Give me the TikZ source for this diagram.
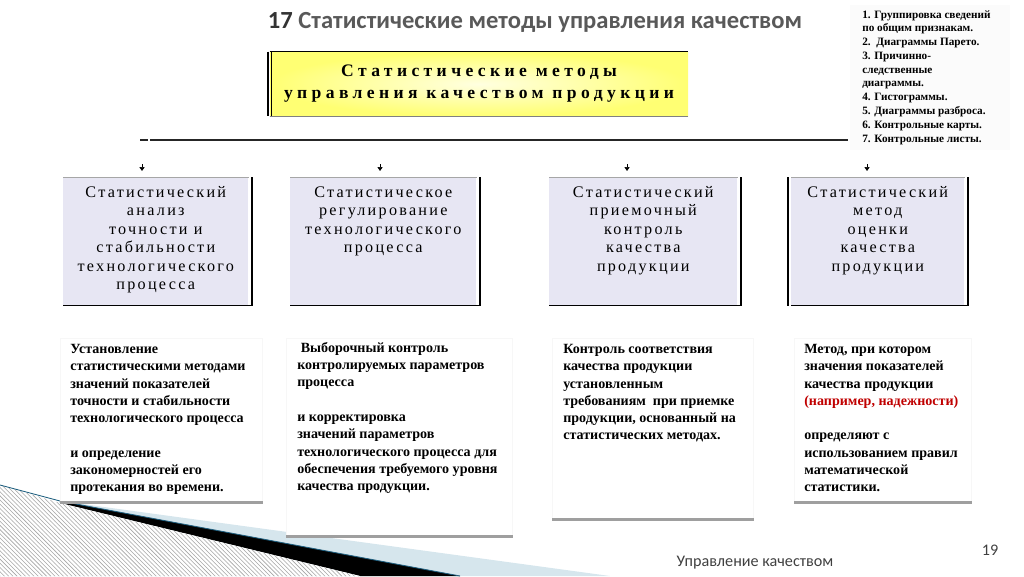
\documentclass[tikz,border=0pt]{standalone}
\usepackage{fontspec}
\setmainfont{Liberation Serif}
\newfontfamily\slidefont{Carlito}
\newfontfamily\spacedfont[LetterSpace=14]{Liberation Serif}
\newfontfamily\headfont[LetterSpace=25]{Liberation Serif}
\usetikzlibrary{arrows.meta,positioning,patterns}
\definecolor{lavender}{HTML}{E7E6F3}
\definecolor{paleblue}{HTML}{D6E6ED}
\definecolor{darkred}{HTML}{C00000}
\definecolor{slidegray}{HTML}{595959}
\definecolor{tealline}{HTML}{1F5F7F}

\begin{document}
\begin{tikzpicture}[x=0.25mm,y=-0.25mm,
    catbox/.style={fill=lavender,minimum height=32mm,inner sep=0pt,anchor=north west},
    cattext/.style={align=center,inner sep=0pt,font=\spacedfont\fontsize{11.5}{13.1}\selectfont},
    panel/.style={fill=white,draw=gray!6,inner sep=0pt,anchor=north west},
    paneltext/.style={align=left,inner sep=0pt,anchor=north west,font=\bfseries\fontsize{10}{12.3}\selectfont},
    tick/.style={-{Triangle[length=1mm,width=1.3mm]},line width=0.4pt}]
    \useasboundingbox (0,0) rectangle (1024,576);
    \fill[paleblue] (60,501) -- (610,576) -- (0,576) -- cycle;
    \fill[black] (60,501) -- (460,576) -- (360,576) -- (60,503) -- cycle;
    \fill[white] (0,485) -- (60,503) -- (360,576) -- (0,576) -- cycle;
    \fill[pattern=north west lines,pattern color=gray!70] (0,485) -- (60,503) -- (360,576) -- (0,576) -- cycle;
    \draw[tealline,line width=0.6pt] (0,485) -- (60,501) -- (460,576);
    \node[font=\slidefont\bfseries\fontsize{17.5}{21}\selectfont,text=slidegray] (title) at (535,22)
        {\textcolor{black!80}{17} Статистические методы управления качеством};
    \node[shade,inner color=yellow!12,outer color=yellow!55,minimum width=104.5mm,minimum height=16mm,
        inner sep=0pt,align=center,font=\headfont\bfseries\fontsize{12.5}{15.6}\selectfont] (head) at (479,84)
        {Статистические методы\\управления качеством продукции};
    \draw[line width=0.8pt] (head.north west) -- (head.north east);
    \draw[gray] (head.south west) -- (head.south east);
    \draw[line width=1.3pt] ([xshift=-0.4mm]head.north west) -- ([xshift=-0.4mm]head.south west);
    \draw[line width=0.4pt] ([xshift=0.3mm]head.north west) -- ([xshift=0.3mm]head.south west);
    \fill[gray!3] (850,5) rectangle (1010,150);
    \node[align=left,inner sep=0pt,anchor=north west,font=\bfseries\fontsize{8}{9.8}\selectfont] (list) at (862,10)
        {1. Группировка сведений\\по общим признакам.\\2.\ \ Диаграммы Парето.\\3. Причинно-\\следственные\\диаграммы.\\4. Гистограммы.\\5. Диаграммы разброса.\\6. Контрольные карты.\\7. Контрольные листы.};
    \coordinate (l0) at (140,140);
    \coordinate (l1) at (148,140);
    \coordinate (l2) at (150,140);
    \coordinate (l3) at (848,140);
    \draw[line width=1.1pt,black!85] (l0) -- (l1) (l2) -- (l3);
    \node[catbox,minimum width=46.25mm] (b1) at (63,177) {};
    \node[catbox,minimum width=46.5mm] (b2) at (290,177) {};
    \node[catbox,minimum width=47mm] (b3) at (549,177) {};
    \node[catbox,minimum width=43.25mm] (b4) at (791,177) {};
    \foreach \b in {b1,b2,b3,b4} {
        \draw[gray!70] (\b.north west) -- (\b.north east);
        \draw[line width=0.9pt] (\b.south west) -- ([xshift=1mm]\b.south east);
        \draw[line width=1.2pt] ([xshift=0.8mm]\b.north east) -- ([xshift=0.8mm]\b.south east);
    }
    \draw[line width=1.2pt] ([xshift=-0.7mm]b4.north west) -- ([xshift=-0.7mm]b4.south west);
    \coordinate (m1) at (142,164);
    \coordinate (m2) at (380,164);
    \coordinate (m3) at (627,164);
    \coordinate (m4) at (867,164);
    \foreach \m in {m1,m2,m3,m4}
        \draw[tick] (\m) -- ++(0,7);
    \node[cattext,below=2.3mm of b1.north] (c1) {Статистический\\анализ\\точности и\\стабильности\\технологического\\процесса};
    \node[cattext,below=2.3mm of b2.north] (c2) {Статистическое\\регулирование\\технологического\\процесса};
    \node[cattext,below=2.3mm of b3.north] (c3) {Статистический\\приемочный\\контроль\\качества\\продукции};
    \node[cattext,below=2.3mm of b4.north] (c4) {Статистический\\метод\\оценки\\качества\\продукции};
    \node[panel,minimum width=50.5mm,minimum height=41mm] (p1) at (60,338) {};
    \node[panel,minimum width=56.5mm,minimum height=49.5mm] (p2) at (286,338) {};
    \node[panel,minimum width=50.25mm,minimum height=45.25mm] (p3) at (552,338) {};
    \node[panel,minimum width=44.25mm,minimum height=41mm] (p4) at (794,338) {};
    \foreach \p in {p1,p2,p3,p4}
        \draw[gray!75,line width=2pt] (\p.south west) -- (\p.south east);
    \node[paneltext] (d1) at (70,344) {Установление\\статистическими методами\\значений показателей\\точности и стабильности\\технологического процесса\\[12.3pt]и определение\\закономерностей его\\протекания во времени.};
    \node[paneltext] (d2) at (297,342) {\ Выборочный контроль\\контролируемых параметров\\процесса\\[12.3pt]и корректировка\\значений параметров\\технологического процесса для\\обеспечения требуемого уровня\\качества продукции.};
    \node[paneltext] (d3) at (563,344) {Контроль соответствия\\качества продукции\\установленным\\требованиям\ \ при приемке\\продукции, основанный на\\статистических методах.};
    \node[paneltext] (d4) at (804,344) {Метод, при котором\\значения показателей\\качества продукции\\\textcolor{darkred}{(например, надежности)}\\[12.3pt]определяют с\\использованием правил\\математической\\статистики.};
    \node[font=\slidefont\fontsize{11.5}{14}\selectfont,text=black!75] (footer) at (755,563) {Управление качеством};
    \node[font=\slidefont\fontsize{11.5}{14}\selectfont,text=black!75] (page) at (990,550) {19};
\end{tikzpicture}
\end{document}
